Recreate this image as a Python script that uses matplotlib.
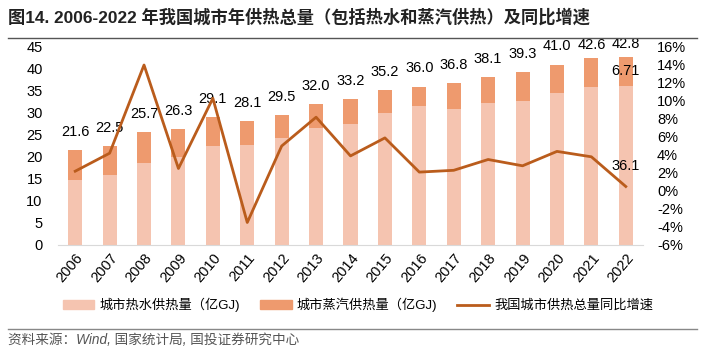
import matplotlib
matplotlib.use("Agg")
import matplotlib.pyplot as plt
from matplotlib.patches import Patch
from matplotlib.lines import Line2D
import numpy as np

plt.rcParams['font.family'] = ['Liberation Sans', 'Noto Sans CJK SC', 'DejaVu Sans']

years = ['2006', '2007', '2008', '2009', '2010', '2011', '2012', '2013', '2014',
         '2015', '2016', '2017', '2018', '2019', '2020', '2021', '2022']
totals = [21.6, 22.5, 25.7, 26.3, 29.1, 28.1, 29.5, 32.0, 33.2,
          35.2, 36.0, 36.8, 38.1, 39.3, 41.0, 42.6, 42.8]
water = [14.8, 15.8, 18.7, 19.9, 22.4, 22.8, 24.4, 26.6, 27.6,
         30.1, 31.7, 31.0, 32.3, 32.8, 34.5, 35.8, 36.1]
steam = [round(t - w, 2) for t, w in zip(totals, water)]
steam[-1] = 6.71
growth = [2.2, 4.2, 14.0, 2.5, 10.3, -3.5, 5.0, 8.2, 3.9,
          5.9, 2.1, 2.3, 3.5, 2.8, 4.4, 3.8, 0.5]

c_water = '#F5C4B0'
c_steam = '#EE9A6E'
c_line = '#BA5C1C'

fig = plt.figure(figsize=(7.02, 3.54), dpi=100)
ax = fig.add_axes([58/702, 1-245/354, (643-58)/702, (245-47)/354])
x = np.arange(len(years))
w = 0.41
ax.bar(x, water, width=w, color=c_water, zorder=2)
ax.bar(x, steam, width=w, bottom=water, color=c_steam, zorder=2)
ax.set_xlim(-0.5, len(years) - 0.5)
ax.set_ylim(0, 45)
ax.set_yticks(np.arange(0, 46, 5))
ax.set_xticks(x)
ax.set_xticklabels(years, rotation=50, ha='right', rotation_mode='anchor', fontsize=10)
for s in ['top', 'right', 'left']:
    ax.spines[s].set_visible(False)
ax.spines['bottom'].set_color('#D9D9D9')
ax.tick_params(axis='both', length=0, labelsize=10.5)
ax.tick_params(axis='y', pad=11)
ax.tick_params(axis='x', pad=4)

for i, t in enumerate(totals):
    off = 8 if i < len(totals) - 2 else 4
    ax.annotate(f'{t:.1f}', (x[i], t), xytext=(0, off), textcoords='offset points',
                ha='center', va='bottom', fontsize=10.5, color='#000000',
                annotation_clip=False)
# inner labels for last bar
ax.text(x[-1], water[-1] / 2, f'{water[-1]:.1f}', ha='center', va='center', fontsize=10.5)
ax.text(x[-1], water[-1] + steam[-1] / 2, f'{steam[-1]:.2f}', ha='center', va='center', fontsize=10.5)

ax2 = ax.twinx()
ax2.plot(x, growth, color=c_line, lw=2, zorder=3)
ax2.set_ylim(-6, 16)
ax2.set_yticks(np.arange(-6, 17, 2))
ax2.set_yticklabels([f'{v}%' for v in range(-6, 17, 2)])
for s in ['top', 'right', 'left', 'bottom']:
    ax2.spines[s].set_visible(False)
ax2.tick_params(axis='y', length=0, labelsize=10.5, pad=10)

# title
fig.text(8/702, 1-17/354, '图14. 2006-2022 年我国城市年供热总量（包括热水和蒸汽供热）及同比增速',
         fontsize=12.4, fontweight='bold', ha='left', va='center', color='#222222')
fig.add_artist(Line2D([8/702, 697/702], [1-38/354, 1-38/354], color='#555555', lw=1))

# legend
handles = [Patch(color=c_water), Patch(color=c_steam), Line2D([0], [0], color=c_line, lw=2)]
labels = ['城市热水供热量（亿GJ)', '城市蒸汽供热量（亿GJ)', '我国城市供热总量同比增速']
fig.legend(handles, labels, loc='center', bbox_to_anchor=(358/702, 1-305/354), ncol=3,
           frameon=False, fontsize=9.5, handlelength=2.4, handleheight=0.6, columnspacing=1.5,
           handletextpad=0.4)

fig.add_artist(Line2D([8/702, 697/702], [1-329/354, 1-329/354], color='#888888', lw=1))
fig.text(8/702, 1-340/354, '资料来源：Wind, 国家统计局, 国投证券研究中心', fontsize=9.8,
         style='italic', color='#555555', ha='left', va='center')

fig.savefig('out.png', dpi=100)
